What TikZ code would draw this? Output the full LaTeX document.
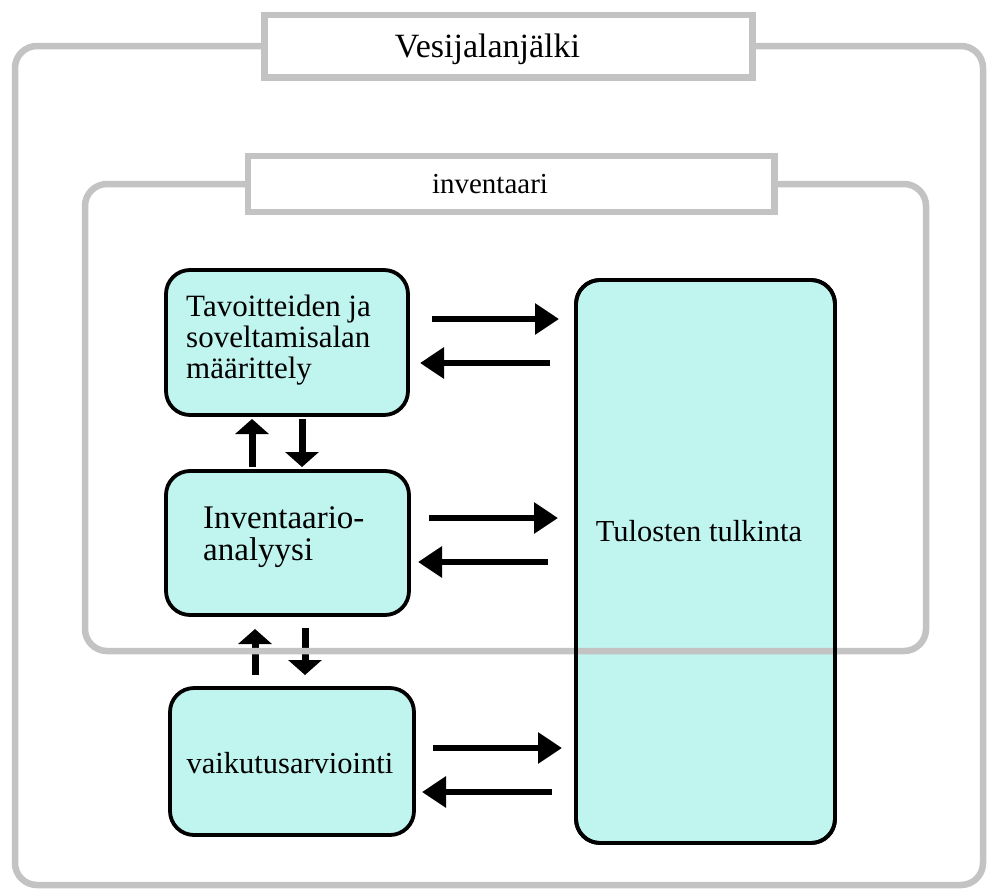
\documentclass[tikz,border=0pt]{standalone}
\usepackage{fontspec}
\setmainfont{Liberation Serif}
\usetikzlibrary{arrows.meta}
\definecolor{framegray}{RGB}{195,195,195}
\definecolor{boxfill}{RGB}{192,244,238}
\begin{document}
\begin{tikzpicture}[x=1pt,y=-1pt,
  frame/.style={draw=framegray, line width=6.5pt},
  titlebox/.style={frame, fill=white, rectangle, inner sep=0pt, outer sep=0pt},
  stage/.style={rectangle, draw=black, fill=boxfill, line width=3.8pt,
    rounded corners=24pt, inner sep=0pt, outer sep=0pt},
  txt/.style={inner sep=0pt, text=black},
  harr/.style={line width=6.5pt, -{Triangle[length=24pt,width=30pt]}},
  varr/.style={line width=7pt, -{Triangle[length=15pt,width=33pt]}},
]
\useasboundingbox (0,0) rectangle (988,889);

% stage boxes
\node[stage, minimum width=242pt, minimum height=145pt] (b1) at (287,342.5) {};
\node[stage, minimum width=243pt, minimum height=144pt] (b2) at (287.5,543) {};
\node[stage, minimum width=244pt, minimum height=147pt] (b3) at (292,761.5) {};
\node[stage, minimum width=259pt, minimum height=563pt] (tul) at (705.5,561.5) {};

% stage texts
\node[txt, font=\fontsize{31}{31}\selectfont, align=left, anchor=north west] (t1)
  at (186,294.8) {Tavoitteiden ja\\soveltamisalan\\määrittely};
\node[txt, font=\fontsize{33}{32}\selectfont, align=left, anchor=north west] (t2)
  at (203,506.2) {Inventaario-\\analyysi};
\node[txt, font=\fontsize{30.5}{30.5}\selectfont, anchor=base] (t3)
  at (290,773) {vaikutusarviointi};
\node[txt, font=\fontsize{30.5}{30.5}\selectfont, anchor=base] (t4)
  at (699,541) {Tulosten tulkinta};

% arrow levels
\coordinate (h1) at (0,319);
\coordinate (h2) at (0,363);
\coordinate (h3) at (0,518);
\coordinate (h4) at (0,562);
\coordinate (h5) at (0,748);
\coordinate (h6) at (0,792);
\coordinate (v1) at (252,0);
\coordinate (v2) at (302,0);
\coordinate (v3) at (255,0);
\coordinate (v4) at (305,0);

% horizontal exchange arrows
\draw[harr, shorten <=24pt, shorten >=17pt] (b1.east |- h1) -- (tul.west |- h1);
\draw[harr, shorten <=26pt, shorten >=12pt] (tul.west |- h2) -- (b1.east |- h2);
\draw[harr, shorten <=20pt, shorten >=18pt] (b2.east |- h3) -- (tul.west |- h3);
\draw[harr, shorten <=28pt, shorten >=9pt] (tul.west |- h4) -- (b2.east |- h4);
\draw[harr, shorten <=19pt, shorten >=14pt] (b3.east |- h5) -- (tul.west |- h5);
\draw[harr, shorten <=24pt, shorten >=8pt] (tul.west |- h6) -- (b3.east |- h6);

% vertical arrows between stages
\draw[varr, shorten <=4pt, shorten >=4pt] (b2.north -| v1) -- (b1.south -| v1);
\draw[varr, shorten <=4pt, shorten >=4pt] (b1.south -| v2) -- (b2.north -| v2);
\draw[varr, shorten <=13pt, shorten >=14pt] (b3.north -| v3) -- (b2.south -| v3);
\draw[varr, shorten <=13pt, shorten >=13pt] (b2.south -| v4) -- (b3.north -| v4);

% title boxes
\node[titlebox, minimum width=488pt, minimum height=62.5pt] (vt) at (508.5,46) {};
\node[titlebox, minimum width=526.5pt, minimum height=56pt] (inv) at (511,184) {};
\node[txt, font=\fontsize{34}{34}\selectfont, anchor=base] (vtt) at (487.5,57) {Vesijalanjälki};
\node[txt, font=\fontsize{29}{29}\selectfont, anchor=base] (invt) at (490,193) {inventaari};

% frames
\draw[frame, rounded corners=22pt] (inv.west) -| (85,651) -| (926,184) -- (inv.east);
\draw[frame, rounded corners=22pt] (vt.west) -| (15,885) -| (983,46) -- (vt.east);

% border of the results box over the frame
\draw[line width=3.8pt, rounded corners=24pt] (tul.north west) rectangle (tul.south east);
\end{tikzpicture}
\end{document}
